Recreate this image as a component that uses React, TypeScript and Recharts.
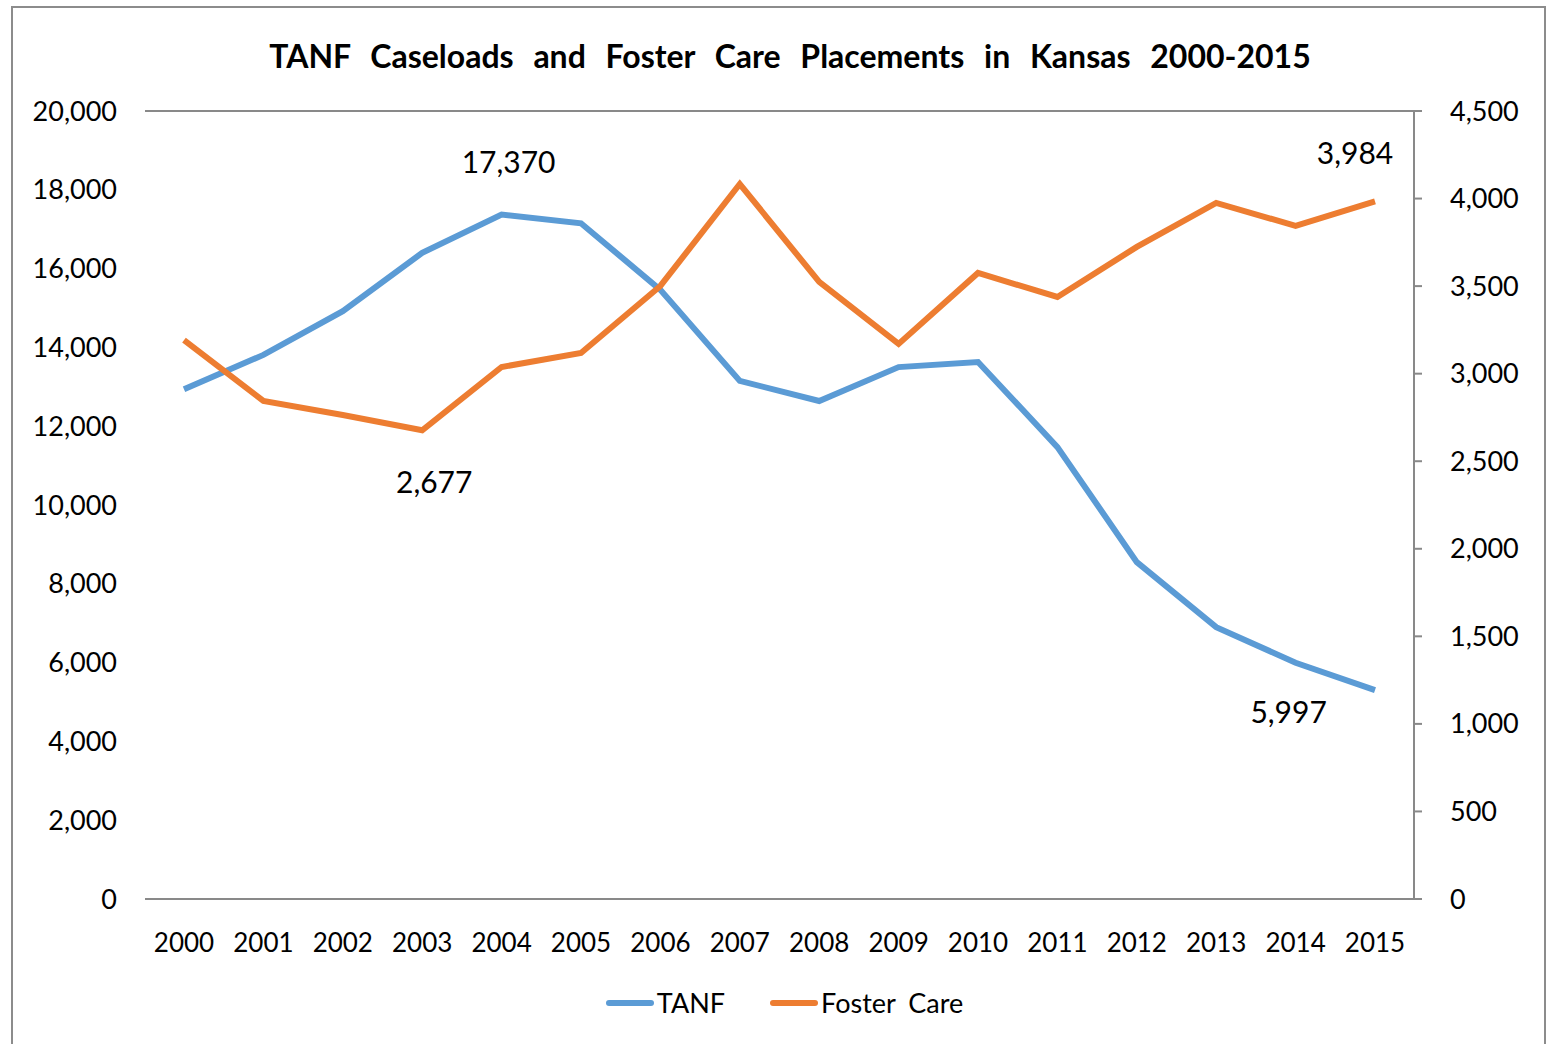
import React from "react";
import {
  LineChart,
  Line,
  XAxis,
  YAxis,
  CartesianGrid,
  Legend,
  LabelList,
} from "recharts";

const YEARS = [
  "2000", "2001", "2002", "2003", "2004", "2005", "2006", "2007",
  "2008", "2009", "2010", "2011", "2012", "2013", "2014", "2015",
];

const TANF = [
  12940, 13810, 14920, 16400, 17370, 17150, 15460, 13150,
  12640, 13500, 13630, 11470, 8550, 6900, 5997, 5300,
];

const FOSTER_CARE = [
  3192, 2844, 2764, 2677, 3038, 3118, 3501, 4083,
  3524, 3170, 3575, 3438, 3724, 3975, 3844, 3984,
];

const LEFT_TICKS = [0, 2000, 4000, 6000, 8000, 10000, 12000, 14000, 16000, 18000, 20000];
const RIGHT_TICKS = [0, 500, 1000, 1500, 2000, 2500, 3000, 3500, 4000, 4500];

// which points get a data label, and where it sits relative to the point
const TANF_LABELS: Record<number, { dx: number; dy: number }> = {
  4: { dx: 7, dy: -54 },
  14: { dx: -7, dy: 48 },
};
const FOSTER_LABELS: Record<number, { dx: number; dy: number }> = {
  3: { dx: 12, dy: 51 },
  15: { dx: -20, dy: -49 },
};

const data = YEARS.map((year, i) => ({
  year,
  tanf: TANF[i],
  foster: FOSTER_CARE[i],
}));

const FONT = "Lato, 'Open Sans', sans-serif";
const BLUE = "#5B9BD5";
const ORANGE = "#ED7D31";
const GRID = "#898989";

const fmt = (v: number) => v.toLocaleString("en-US");

const makeLabel =
  (which: Record<number, { dx: number; dy: number }>) =>
  // eslint-disable-next-line @typescript-eslint/no-explicit-any
  (props: any) => {
    const { x, y, value, index } = props;
    const pos = which[index];
    if (!pos) return null;
    return (
      <text
        x={x + pos.dx}
        y={y + pos.dy}
        textAnchor="middle"
        dominantBaseline="central"
        fill="#000"
        style={{ fontFamily: FONT, fontSize: 30 }}
      >
        {fmt(value)}
      </text>
    );
  };

const renderLegend = () => (
  <div
    style={{
      display: "flex",
      justifyContent: "center",
      alignItems: "center",
      fontFamily: FONT,
      fontSize: 27,
      color: "#000",
      paddingLeft: 40,
      wordSpacing: 6,
    }}
  >
    {[
      { name: "TANF", color: BLUE, gap: 45 },
      { name: "Foster Care", color: ORANGE, gap: 20 },
    ].map((item) => (
      <div key={item.name} style={{ display: "flex", alignItems: "center" }}>
        <span
          style={{
            display: "inline-block",
            width: 48,
            height: 6,
            borderRadius: 3,
            background: item.color,
            marginRight: 3,
          }}
        />
        <span style={{ marginRight: item.gap }}>{item.name}</span>
      </div>
    ))}
  </div>
);

export default function App() {
  return (
    <div
      style={{
        position: "absolute",
        left: 0,
        top: 0,
        width: 1547,
        height: 1044,
        background: "#fff",
        overflow: "hidden",
      }}
    >
      <div
        style={{
          position: "absolute",
          left: 11,
          top: 6,
          width: 1535,
          height: 1050,
          border: "2px solid #8c8c8c",
          boxSizing: "border-box",
        }}
      />
      <div
        style={{
          position: "absolute",
          left: 0,
          top: 36,
          width: 1580,
          textAlign: "center",
          fontFamily: FONT,
          fontWeight: 700,
          fontSize: 32,
          wordSpacing: 12,
          color: "#000",
        }}
      >
        TANF Caseloads and Foster Care Placements in Kansas 2000-2015
      </div>
      <LineChart
        width={1547}
        height={1044}
        data={data}
        margin={{ top: 111, right: 13, bottom: 30, left: 15 }}
        style={{ position: "absolute", left: 0, top: 0 }}
      >
        <CartesianGrid vertical={false} stroke={GRID} strokeWidth={2} />
        <XAxis
          dataKey="year"
          height={60}
          padding={{ left: 39, right: 39 }}
          axisLine={{ stroke: GRID, strokeWidth: 2 }}
          tickLine={false}
          tickSize={0}
          tickMargin={35}
          interval={0}
          tick={{ fill: "#000", fontFamily: FONT, fontSize: 26 }}
        />
        <YAxis
          yAxisId="left"
          width={130}
          domain={[0, 20000]}
          ticks={LEFT_TICKS}
          tickFormatter={fmt}
          axisLine={false}
          tickLine={false}
          tickSize={0}
          tickMargin={28}
          tick={{ fill: "#000", fontFamily: FONT, fontSize: 27 }}
        />
        <YAxis
          yAxisId="right"
          orientation="right"
          width={120}
          domain={[0, 4500]}
          ticks={RIGHT_TICKS}
          tickFormatter={fmt}
          axisLine={{ stroke: GRID, strokeWidth: 2 }}
          tickLine={{ stroke: GRID, strokeWidth: 2 }}
          tickSize={8}
          tickMargin={28}
          tick={{ fill: "#000", fontFamily: FONT, fontSize: 27 }}
        />
        <Legend
          verticalAlign="bottom"
          height={55}
          content={renderLegend}
          wrapperStyle={{ top: 986 }}
        />
        <Line
          yAxisId="left"
          dataKey="tanf"
          name="TANF"
          stroke={BLUE}
          strokeWidth={6}
          dot={false}
          isAnimationActive={false}
        >
          <LabelList dataKey="tanf" content={makeLabel(TANF_LABELS)} />
        </Line>
        <Line
          yAxisId="right"
          dataKey="foster"
          name="Foster Care"
          stroke={ORANGE}
          strokeWidth={6}
          dot={false}
          isAnimationActive={false}
        >
          <LabelList dataKey="foster" content={makeLabel(FOSTER_LABELS)} />
        </Line>
      </LineChart>
    </div>
  );
}
